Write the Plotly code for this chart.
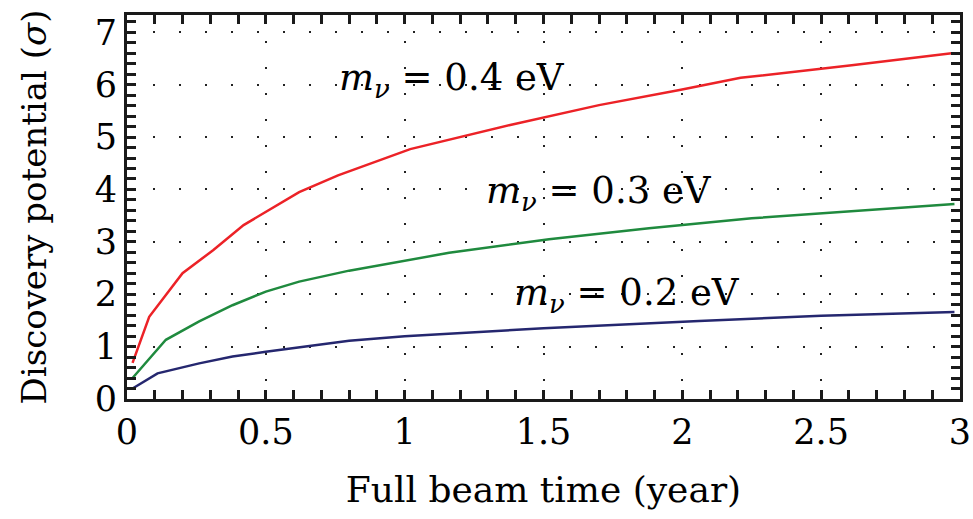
import plotly.graph_objects as go

# Full beam time (year) and discovery potential (sigma)
t_04 = [0.02, 0.08, 0.2, 0.31, 0.42, 0.62, 0.76, 1.02, 1.38, 1.70, 1.99, 2.21, 2.61, 2.97]
s_04 = [0.69, 1.57, 2.40, 2.84, 3.32, 3.95, 4.27, 4.77, 5.23, 5.61, 5.90, 6.13, 6.37, 6.60]

t_03 = [0.02, 0.14, 0.26, 0.38, 0.50, 0.62, 0.80, 1.16, 1.52, 1.88, 2.25, 2.98]
s_03 = [0.40, 1.13, 1.48, 1.79, 2.05, 2.24, 2.45, 2.79, 3.05, 3.26, 3.45, 3.72]

t_02 = [0.02, 0.11, 0.26, 0.38, 0.50, 0.80, 1.00, 1.50, 2.06, 2.50, 2.98]
s_02 = [0.20, 0.49, 0.68, 0.81, 0.90, 1.11, 1.20, 1.35, 1.49, 1.59, 1.66]

labels = ["<i>m<sub>ν</sub></i> = 0.4 eV", "<i>m<sub>ν</sub></i> = 0.3 eV", "<i>m<sub>ν</sub></i> = 0.2 eV"]
label_x = [1.17, 1.70, 1.80]
label_y = [6.09, 3.93, 1.98]

colors = ["#ec2227", "#1f8a3e", "#25276f"]

FONT = "DejaVu Serif"

fig = go.Figure()
for t, s, c in [(t_04, s_04, colors[0]), (t_03, s_03, colors[1]), (t_02, s_02, colors[2])]:
    fig.add_trace(go.Scatter(x=t, y=s, mode="lines", line=dict(color=c, width=2.5),
                             showlegend=False, hoverinfo="skip"))

for txt, x, y in zip(labels, label_x, label_y):
    fig.add_annotation(x=x, y=y, text=txt, showarrow=False, xref="x", yref="y",
                       font=dict(family=FONT, size=37, color="black"))

axis_common = dict(
    showline=True, linecolor="#1a1a1a", linewidth=3, mirror="allticks",
    ticks="inside", ticklen=9, tickwidth=2.5, tickcolor="#1a1a1a",
    showgrid=True, gridcolor="#222222", gridwidth=2, griddash="2px,24px",
    zeroline=False, automargin=False,
    tickfont=dict(family=FONT, size=35, color="black"),
)

fig.update_xaxes(range=[0, 3], tickvals=[0, 0.5, 1, 1.5, 2, 2.5, 3],
                 ticktext=["0", "0.5", "1", "1.5", "2", "2.5", "3"],
                 minor=dict(dtick=0.1, tick0=0, ticks="inside", ticklen=9, tickwidth=2.5,
                            tickcolor="#1a1a1a", showgrid=False),
                 title=dict(text="Full beam time (year)", font=dict(family=FONT, size=36, color="black"),
                            standoff=26),
                 **axis_common)
fig.update_yaxes(range=[0, 7.33], tickvals=[0, 1, 2, 3, 4, 5, 6, 7],
                 minor=dict(dtick=0.2, tick0=0, ticks="inside", ticklen=9, tickwidth=2.5,
                            tickcolor="#1a1a1a", showgrid=False),
                 title=dict(text="Discovery potential (<i>σ</i>)", font=dict(family=FONT, size=34, color="black"),
                            standoff=38),
                 **axis_common)

fig.update_layout(
    width=973, height=519,
    margin=dict(l=127, r=13, t=15, b=120),
    plot_bgcolor="white", paper_bgcolor="white",
)

fig.write_html("out.html")
